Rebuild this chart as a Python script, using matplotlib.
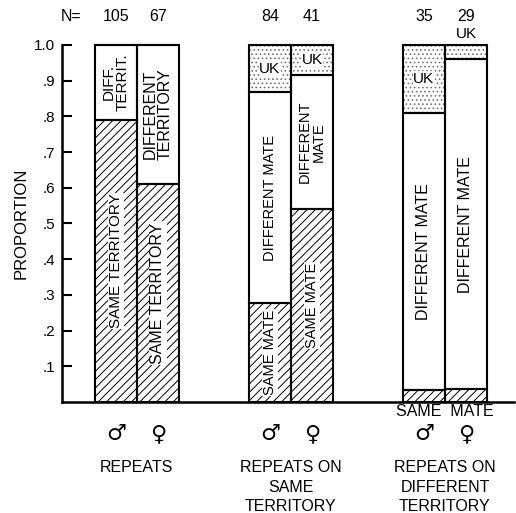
import matplotlib
matplotlib.use('Agg')
import matplotlib.pyplot as plt
import matplotlib.transforms as mtransforms

plt.rcParams['font.family'] = ['Liberation Sans', 'DejaVu Sans']
plt.rcParams['hatch.linewidth'] = 0.7

# ====================== data ======================
group_names = ['REPEATS', 'REPEATS ON\nSAME\nTERRITORY', 'REPEATS ON\nDIFFERENT\nTERRITORY']
sexes = ['\u2642', '\u2640', '\u2642', '\u2640', '\u2642', '\u2640']
n_values = [105, 67, 84, 41, 35, 29]
same_prop = [0.79, 0.61, 0.277, 0.54, 0.034, 0.035]
diff_prop = [0.21, 0.39, 0.591, 0.375, 0.776, 0.926]
uk_prop = [0.0, 0.0, 0.132, 0.085, 0.19, 0.039]
same_labels = ['SAME TERRITORY', 'SAME TERRITORY', 'SAME MATE', 'SAME MATE', '', '']
diff_labels = ['DIFF.\nTERRIT.', 'DIFFERENT\nTERRITORY', 'DIFFERENT MATE',
               'DIFFERENT\nMATE', 'DIFFERENT MATE', 'DIFFERENT MATE']
y_ticks = [0.1, 0.2, 0.3, 0.4, 0.5, 0.6, 0.7, 0.8, 0.9, 1.0]
y_ticklabels = ['.1', '.2', '.3', '.4', '.5', '.6', '.7', '.8', '.9', '1.0']

# ====================== layout ======================
bar_w = 0.273
xpos = []
for g in range(3):
    xpos += [g - bar_w / 2, g + bar_w / 2]
in_bar_size = [11, 11.5, 10.5, 10.5, 11.5, 11.5]

fig = plt.figure(figsize=(5.16, 5.13), dpi=100)
ax = fig.add_axes([0.120, 0.2164, 0.876, 0.696])

# hatch layers (no outline), then outlines on top
uk_bottom = [s + d for s, d in zip(same_prop, diff_prop)]
ax.bar(xpos, same_prop, bar_w, color='white', edgecolor='black', hatch='////',
       linewidth=0, clip_on=False)
ax.bar(xpos, diff_prop, bar_w, bottom=same_prop, color='white', linewidth=0, clip_on=False)
ax.bar(xpos, uk_prop, bar_w, bottom=uk_bottom, color='white', edgecolor='0.45',
       hatch='....', linewidth=0, clip_on=False)
for bottom, height in [([0] * 6, same_prop), (same_prop, diff_prop), (uk_bottom, uk_prop)]:
    ax.bar(xpos, height, bar_w, bottom=bottom, fill=False, edgecolor='black',
           linewidth=1.5, clip_on=False)

# text inside the bars
for i, x in enumerate(xpos):
    if same_labels[i]:
        ax.text(x, same_prop[i] / 2, same_labels[i], rotation=90, ha='center', va='center',
                fontsize=in_bar_size[i],
                bbox=dict(facecolor='white', edgecolor='none', pad=0.8))
    ax.text(x, same_prop[i] + diff_prop[i] / 2, diff_labels[i], rotation=90, ha='center',
            va='center', fontsize=in_bar_size[i], multialignment='center', linespacing=1.0)
    if uk_prop[i] > 0.05:
        ax.text(x, uk_bottom[i] + uk_prop[i] / 2, 'UK', ha='center', va='center', fontsize=11,
                bbox=dict(facecolor='white', edgecolor='none', pad=0.5))
ax.text(xpos[5], 1.03, 'UK', ha='center', va='center', fontsize=11)

# N above the bars
trans = mtransforms.blended_transform_factory(ax.transData, ax.transAxes)
ax.text(-0.428, 1.081, 'N=', transform=trans, ha='center', va='center', fontsize=11.5)
for x, n in zip(xpos, n_values):
    ax.text(x, 1.081, str(n), transform=trans, ha='center', va='center', fontsize=11.5)

# below the axis
ax.text(2, -0.028, 'SAME  MATE', transform=trans, ha='center', va='center', fontsize=11.5)
for x, s in zip(xpos, sexes):
    ax.text(x, -0.09, s, transform=trans, ha='center', va='center', fontsize=16,
            family='DejaVu Sans')
for g, name in enumerate(group_names):
    ax.text(g, -0.163, name, transform=trans, ha='center', va='top', fontsize=11.5,
            linespacing=1.38)

# axes styling
ax.set_xlim(-0.487, 2.448)
ax.set_ylim(0, 1.0)
ax.set_yticks(y_ticks)
ax.set_yticklabels(y_ticklabels, fontsize=11)
ax.tick_params(axis='y', direction='in', length=7.5, width=1.5, pad=5)
ax.set_xticks([])
ax.spines['top'].set_visible(False)
ax.spines['right'].set_visible(False)
ax.spines['left'].set_linewidth(1.8)
ax.spines['bottom'].set_linewidth(1.8)
ax.set_ylabel('PROPORTION', fontsize=12, labelpad=4)

fig.savefig('out.png', dpi=100)
